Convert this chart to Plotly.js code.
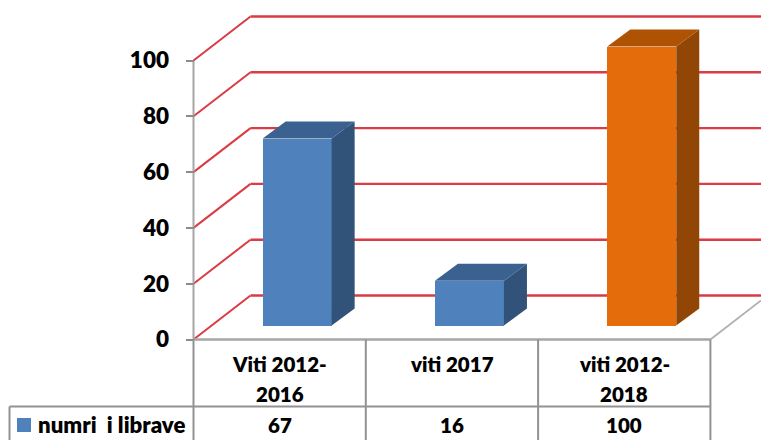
<!DOCTYPE html>
<html>
<head>
<meta charset="utf-8">
<script src="https://cdn.plot.ly/plotly-3.0.1.min.js"></script>
<style>html,body{margin:0;padding:0;background:#fff}</style>
</head>
<body>
<div id="chart" style="width:761px;height:440px"></div>
<script>
// Data
var categories = ["Viti 2012-\n2016", "viti 2017", "viti 2012-\n2018"];
var seriesName = "numri  i librave";
var seriesValues = [67, 16, 100];
var barColors = ["#4f81bd", "#4f81bd", "#e46c0a"];
var sideColors = ["#315379", "#315379", "#914606"];
var topColors = ["#3b6190", "#3b6190", "#ad5303"];
var yTicks = [0, 20, 40, 60, 80, 100];

// Pixel scale of the figure (used only to define axis ranges and 3D projection)
var W = 761, H = 440, X0 = 193.5, Y0 = 339.5, UX = 172.3, UY = 2.79;
var xr = [-X0 / UX, (W - X0) / UX];
var yr = [(Y0 - H) / UY, Y0 / UY];
function dx(px) { return px / UX; }
function dy(px) { return px / UY; }

var WALL_X = dx(57), WALL_Y = dy(44);          // back wall depth
var BAR_SHIFT_X = dx(17.5), BAR_BASE = dy(14); // bar offset into the floor
var BAR_W = dx(69), DEPTH_X = dx(23), DEPTH_Y = dy(17);
var ROW1 = dy(-67), TABLE_L = dx(-184);

var traces = [];
var centers = categories.map(function (_, i) { return i + 0.5 + BAR_SHIFT_X; });

traces.push({
  type: "bar", name: seriesName, x: centers, y: seriesValues,
  base: seriesValues.map(function () { return BAR_BASE; }),
  width: BAR_W, marker: {color: barColors, line: {width: 0}},
  hoverinfo: "skip", showlegend: false
});

seriesValues.forEach(function (v, i) {
  var L = centers[i] - BAR_W / 2, R = centers[i] + BAR_W / 2;
  var T = BAR_BASE + v, B = BAR_BASE;
  traces.push({
    type: "scatter", mode: "lines", fill: "toself", fillcolor: sideColors[i],
    x: [R, R + DEPTH_X, R + DEPTH_X, R, R],
    y: [B, B + DEPTH_Y, T + DEPTH_Y, T, B],
    line: {width: 0, color: sideColors[i]}, hoverinfo: "skip", showlegend: false
  });
  traces.push({
    type: "scatter", mode: "lines", fill: "toself", fillcolor: topColors[i],
    x: [L, L + DEPTH_X, R + DEPTH_X, R, L],
    y: [T, T + DEPTH_Y, T + DEPTH_Y, T, T],
    line: {width: 0, color: topColors[i]}, hoverinfo: "skip", showlegend: false
  });
});

// Shapes: gridlines, walls, table
var RED = "#da3b45", GREY = "#a6a6a6", TBL = "#929292";
var n = categories.length;
var shapes = [];
function seg(x0, y0, x1, y1, color, w, layer) {
  shapes.push({type: "line", xref: "x", yref: "y", x0: x0, y0: y0, x1: x1, y1: y1,
    line: {color: color, width: w}, layer: layer || "below"});
}
yTicks.forEach(function (t) {
  seg(0, t, WALL_X, t + WALL_Y, RED, 2);
  seg(WALL_X, t + WALL_Y, xr[1], t + WALL_Y, RED, 2.4);
});
seg(0, 0, 0, yTicks[yTicks.length - 1], GREY, 2);         // value axis
seg(0, 0, n, 0, GREY, 2.4);                                // floor front edge
seg(n, 0, xr[1], (xr[1] - n) * WALL_Y / WALL_X, "#b0b0b0", 1.8); // floor right edge
// table
for (var i = 0; i <= n; i++) seg(i, 0, i, yr[0], TBL, 2, "above");
seg(TABLE_L, ROW1, n, ROW1, TBL, 2, "above");
seg(TABLE_L, ROW1, TABLE_L, yr[0], TBL, 2, "above");
// legend key in the table
shapes.push({type: "rect", xref: "x", yref: "y",
  x0: dx(-176.5), x1: dx(-162.5), y0: dy(-78.5), y1: dy(-92.5),
  fillcolor: barColors[0], line: {width: 0}, layer: "above"});

// Annotations: table texts
var FONT = "Lato, Carlito, Calibri, sans-serif";
var WEIGHT = 800;
var annotations = [];
function label(x, y, text, size, anchor) {
  annotations.push({xref: "x", yref: "y", x: x, y: y, text: text,
    showarrow: false, xanchor: anchor || "center", yanchor: "middle",
    font: {family: FONT, size: size, color: "#000", weight: WEIGHT}});
}
categories.forEach(function (c, i) {
  var lines = c.split("\n");
  lines.forEach(function (ln, k) {
    label(i + 0.5, dy(k === 0 ? -24.5 : -54.5), ln, 20.5);
  });
  label(i + 0.5, dy(-85), String(seriesValues[i]), 20.5);
});
label(dx(-157.5), dy(-85), seriesName.replace(/ /g, "&nbsp;"), 22.2, "left");

var layout = {
  width: W, height: H, margin: {l: 0, r: 0, t: 0, b: 0},
  paper_bgcolor: "#fff", plot_bgcolor: "#fff", showlegend: false, bargap: 0,
  xaxis: {range: xr, visible: false, fixedrange: true},
  yaxis: {
    range: yr, anchor: "free", position: X0 / W, tickmode: "array",
    tickvals: yTicks, ticktext: yTicks.map(String),
    ticks: "outside", ticklen: 8, tickwidth: 2, tickcolor: "#8c8c8c",
    ticklabelstandoff: 12,
    showgrid: false, zeroline: false, showline: false, fixedrange: true,
    tickfont: {family: FONT, size: 22.5, color: "#000", weight: WEIGHT}
  },
  shapes: shapes, annotations: annotations
};

Plotly.newPlot("chart", traces, layout, {displayModeBar: false, staticPlot: true});
</script>
</body>
</html>
